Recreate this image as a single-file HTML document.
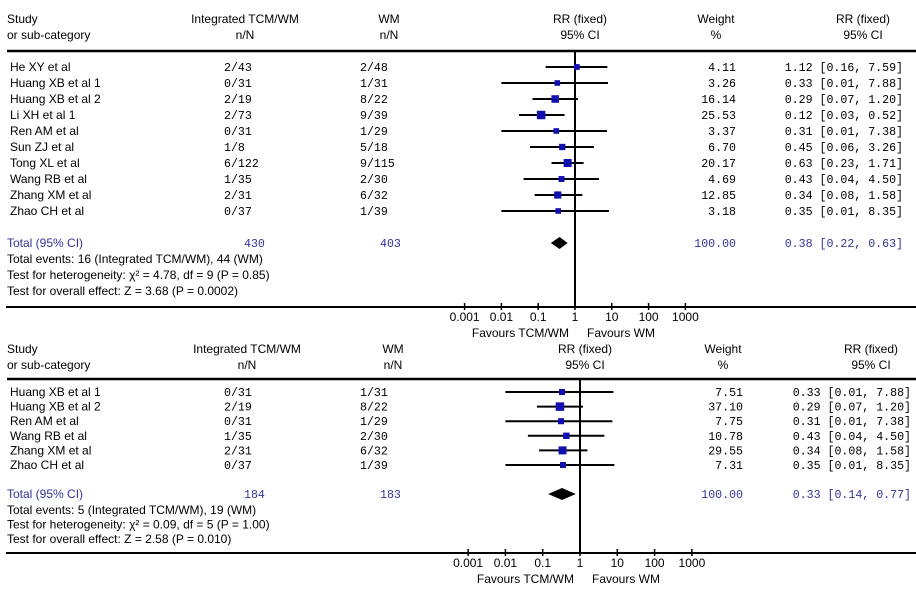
<!DOCTYPE html>
<html><head><meta charset="utf-8"><style>
html,body{margin:0;padding:0;background:#fff;}
svg{display:block;}
text{font-family:"Liberation Sans",Arial,sans-serif;font-size:12px;fill:#000;}
.m{font-family:"Liberation Mono",monospace;font-size:11.6px;}
.b{fill:#333399;}
</style></head><body>
<svg id="chart" width="916" height="591" viewBox="0 0 916 591" xmlns="http://www.w3.org/2000/svg"></svg>
<script>
// Panel 1 data
const studies1 = ["He XY et al","Huang XB et al 1","Huang XB et al 2","Li XH  et al 1","Ren AM et al","Sun ZJ et al","Tong XL et al","Wang RB et al","Zhang XM et al","Zhao CH et al"];
const trt1 = ["2/43","0/31","2/19","2/73","0/31","1/8","6/122","1/35","2/31","0/37"];
const ctl1 = ["2/48","1/31","8/22","9/39","1/29","5/18","9/115","2/30","6/32","1/39"];
const rr1 = [1.12,0.33,0.29,0.12,0.31,0.45,0.63,0.43,0.34,0.35];
const lo1 = [0.16,0.01,0.07,0.03,0.01,0.06,0.23,0.04,0.08,0.01];
const hi1 = [7.59,7.88,1.20,0.52,7.38,3.26,1.71,4.50,1.58,8.35];
const wt1 = [4.11,3.26,16.14,25.53,3.37,6.70,20.17,4.69,12.85,3.18];
const total1 = {n1:"430", n2:"403", rr:0.38, lo:0.22, hi:0.63};
const notes1 = ["Total events: 16 (Integrated TCM/WM), 44 (WM)","Test for heterogeneity: χ² = 4.78, df = 9 (P = 0.85)","Test for overall effect: Z = 3.68 (P = 0.0002)"];
// Panel 2 data
const studies2 = ["Huang XB et al 1","Huang XB et al 2","Ren AM et al","Wang RB et al","Zhang XM et al","Zhao CH et al"];
const trt2 = ["0/31","2/19","0/31","1/35","2/31","0/37"];
const ctl2 = ["1/31","8/22","1/29","2/30","6/32","1/39"];
const rr2 = [0.33,0.29,0.31,0.43,0.34,0.35];
const lo2 = [0.01,0.07,0.01,0.04,0.08,0.01];
const hi2 = [7.88,1.20,7.38,4.50,1.58,8.35];
const wt2 = [7.51,37.10,7.75,10.78,29.55,7.31];
const total2 = {n1:"184", n2:"183", rr:0.33, lo:0.14, hi:0.77};
const notes2 = ["Total events: 5 (Integrated TCM/WM), 19 (WM)","Test for heterogeneity: χ² = 0.09, df = 5 (P = 1.00)","Test for overall effect: Z = 2.58 (P = 0.010)"];
const ticks = [0.001,0.01,0.1,1,10,100,1000];
const tickLabels = ["0.001","0.01","0.1","1","10","100","1000"];

const svg = document.getElementById('chart');
const NS = "http://www.w3.org/2000/svg";
function mk(tag, attrs, txt){const e=document.createElementNS(NS,tag);for(const k in attrs)e.setAttribute(k,attrs[k]);if(txt!==undefined)e.textContent=txt;svg.appendChild(e);return e;}
function f2(v){return v.toFixed(2);}

function panel(p){
  const xs = v => p.x1 + Math.log10(v)*p.dec;
  let e;
  e=mk('text',{x:7,y:p.hy},"Study");  
  e=mk('text',{x:7,y:p.hy+16},"or sub-category");  
  e=mk('text',{x:p.c1,y:p.hy,'text-anchor':'middle'},"Integrated TCM/WM");  
  mk('text',{x:p.c1,y:p.hy+16,'text-anchor':'middle'},"n/N");
  e=mk('text',{x:p.c2,y:p.hy,'text-anchor':'middle'},"WM");  
  mk('text',{x:p.c2,y:p.hy+16,'text-anchor':'middle'},"n/N");
  e=mk('text',{x:p.x1+5,y:p.hy,'text-anchor':'middle'},"RR (fixed)");  
  mk('text',{x:p.x1+5,y:p.hy+16,'text-anchor':'middle'},"95% CI");
  e=mk('text',{x:p.cw,y:p.hy,'text-anchor':'middle'},"Weight");  
  mk('text',{x:p.cw,y:p.hy+16,'text-anchor':'middle'},"%");
  e=mk('text',{x:p.cr,y:p.hy,'text-anchor':'middle'},"RR (fixed)");  
  mk('text',{x:p.cr,y:p.hy+16,'text-anchor':'middle'},"95% CI");
  e=mk('line',{x1:7,x2:916,y1:p.line,y2:p.line,stroke:'#000','stroke-width':2.5});  
  e=mk('line',{x1:xs(1),x2:xs(1),y1:p.line,y2:p.axis,stroke:'#000','stroke-width':2});  
  const maxW = Math.max(...p.wt);
  p.studies.forEach((s,i)=>{
    const y = p.r0 + i*p.rs;
    let t=mk('text',{x:10,y:y+4},s);  
    t=mk('text',{x:224,y:y+4,class:'m'},p.trt[i]);  
    t=mk('text',{x:360,y:y+4,class:'m'},p.ctl[i]);  
    t=mk('text',{x:p.wr,y:y+4,class:'m','text-anchor':'end'},f2(p.wt[i]));  
    t=mk('text',{x:p.rrR,y:y+4,class:'m','text-anchor':'end'},f2(p.rr[i])+" ["+f2(p.lo[i])+", "+f2(p.hi[i])+"]");  
    const l=mk('line',{x1:xs(p.lo[i]),x2:xs(p.hi[i]),y1:y,y2:y,stroke:'#000','stroke-width':2});
     
    const sz = 4 + 4.5*Math.sqrt(p.wt[i]/maxW);
    const r=mk('rect',{x:xs(p.rr[i])-sz/2,y:y-sz/2,width:sz,height:sz,fill:'#1010b0'});
     
  });
  const ty=p.ty;
  let t=mk('text',{x:7,y:ty+4,class:'b'},"Total (95% CI)");  
  t=mk('text',{x:p.t1,y:ty+4,class:'m b'},p.total.n1);  
  t=mk('text',{x:p.t2,y:ty+4,class:'m b'},p.total.n2);  
  t=mk('text',{x:p.wr,y:ty+4,class:'m b','text-anchor':'end'},"100.00");  
  t=mk('text',{x:p.rrR,y:ty+4,class:'m b','text-anchor':'end'},f2(p.total.rr)+" ["+f2(p.total.lo)+", "+f2(p.total.hi)+"]");  
  const d=mk('polygon',{points:`${xs(p.total.lo)},${ty} ${xs(p.total.rr)},${ty-6} ${xs(p.total.hi)},${ty} ${xs(p.total.rr)},${ty+6}`,fill:'#000'});
   
  p.notes.forEach((n,i)=>{const e=mk('text',{x:7,y:ty+20+i*p.ns},n);  });
  e=mk('line',{x1:6,x2:916,y1:p.axis,y2:p.axis,stroke:'#000','stroke-width':2});  
  ticks.forEach((v,i)=>{
    const x=xs(v);
    let tk=mk('line',{x1:x,x2:x,y1:p.axis-4,y2:p.axis+3,stroke:'#000','stroke-width':1.5});  
    tk=mk('text',{x:x,y:p.axis+14,'text-anchor':'middle'},tickLabels[i]);  
  });
  e=mk('text',{x:xs(1)-6,y:p.axis+30,'text-anchor':'end'},"Favours TCM/WM");  
  e=mk('text',{x:xs(1)+12,y:p.axis+30},"Favours WM");  
}
panel({studies:studies1,trt:trt1,ctl:ctl1,rr:rr1,lo:lo1,hi:hi1,wt:wt1,total:total1,notes:notes1,
  hy:23,line:51,r0:67,rs:16,ty:243,ns:16,axis:307,x1:575,dec:36.8,c1:245,c2:389,cw:716,cr:863,wr:736,rrR:903,t1:244,t2:380});
panel({studies:studies2,trt:trt2,ctl:ctl2,rr:rr2,lo:lo2,hi:hi2,wt:wt2,total:total2,notes:notes2,
  hy:353,line:379,r0:392,rs:14.6,ty:494,ns:14.5,axis:553,x1:580,dec:37.3,c1:247,c2:393,cw:723,cr:871,wr:743,rrR:911,t1:244,t2:380});
</script>
</body></html>
